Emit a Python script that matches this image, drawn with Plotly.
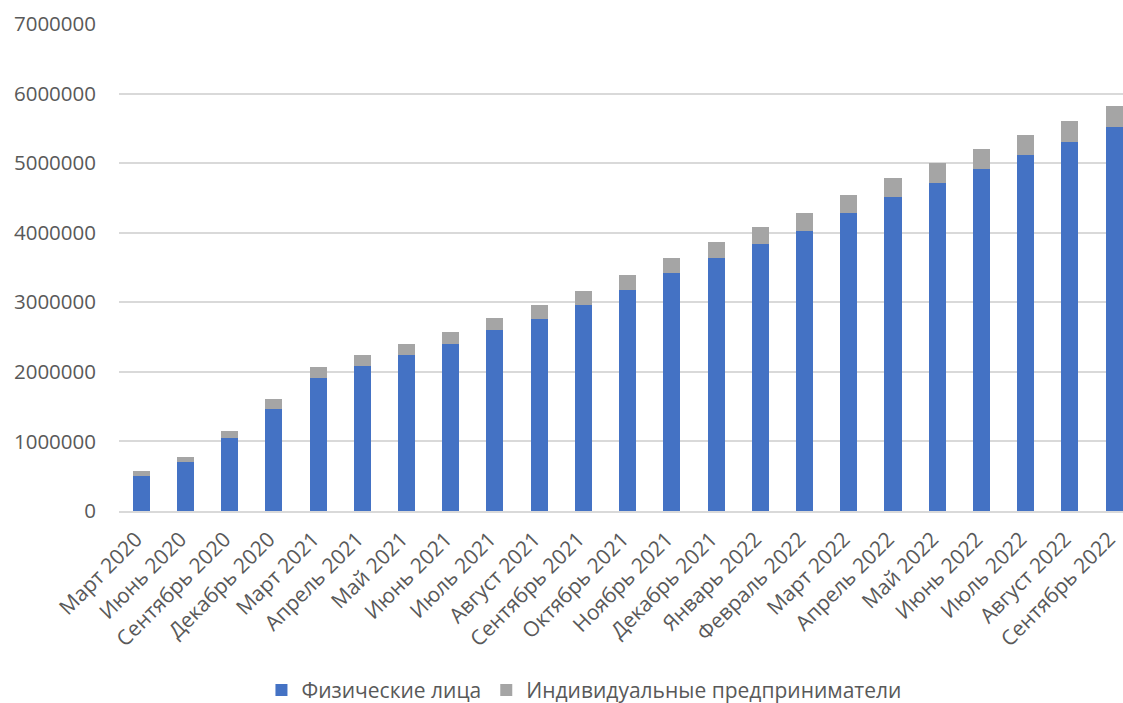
import plotly.graph_objects as go

categories = ["Март 2020", "Июнь 2020", "Сентябрь 2020", "Декабрь 2020", "Март 2021",
              "Апрель 2021", "Май 2021", "Июнь 2021", "Июль 2021", "Август 2021",
              "Сентябрь 2021", "Октябрь 2021", "Ноябрь 2021", "Декабрь 2021", "Январь 2022",
              "Февраль 2022", "Март 2022", "Апрель 2022", "Май 2022", "Июнь 2022",
              "Июль 2022", "Август 2022", "Сентябрь 2022"]

individuals = [510000, 706000, 1052000, 1460000, 1914000,
               2086000, 2236000, 2397000, 2602000, 2761000,
               2967000, 3182000, 3421000, 3630000, 3837000,
               4029000, 4289000, 4519000, 4713000, 4922000,
               5110000, 5311000, 5516000]

entrepreneurs = [62000, 72000, 91000, 144000, 154000,
                 159000, 158000, 173000, 178000, 196000,
                 195000, 210000, 215000, 230000, 241000,
                 255000, 255000, 270000, 287000, 280000,
                 298000, 299000, 311000]

y_ticks = [0, 1000000, 2000000, 3000000, 4000000, 5000000, 6000000, 7000000]

FONT = "Open Sans"
TXT = "#595959"

fig = go.Figure()
fig.add_trace(go.Bar(x=categories, y=individuals, name="Физические лица",
                     marker=dict(color="#4472C4", line=dict(width=0))))
fig.add_trace(go.Bar(x=categories, y=entrepreneurs, name="Индивидуальные предприниматели",
                     marker=dict(color="#A5A5A5", line=dict(width=0))))

fig.update_layout(
    width=1123, height=703,
    barmode="stack", bargap=0.615,
    plot_bgcolor="white", paper_bgcolor="white",
    margin=dict(l=119, r=0, t=24, b=192, autoexpand=False),
    font=dict(family=FONT, size=20, color=TXT),
    showlegend=True,
    legend=dict(orientation="h", xref="container", yref="container",
                x=0.52, y=0.018, xanchor="center", yanchor="middle",
                traceorder="normal",
                font=dict(family=FONT, size=21, color=TXT),
                itemwidth=30, tracegroupgap=0),
    xaxis=dict(type="category", range=[-0.5, 22.2], tickangle=-45,
               showline=True, linecolor="#d9d9d9", linewidth=1.5,
               ticks="", showgrid=False, automargin=False,
               ticklabelstandoff=6, ticklabelshift=-5,
               tickfont=dict(family=FONT, size=21, color=TXT)),
    yaxis=dict(range=[0, 7000000], tickvals=y_ticks,
               ticktext=[str(v) for v in y_ticks],
               showgrid=True, gridcolor="#d9d9d9", gridwidth=1.5,
               zeroline=False, showline=False, ticks="",
               ticklabelstandoff=22, automargin=False,
               tickfont=dict(family=FONT, size=20.5, color=TXT)),
)

fig.write_html("out.html", config={"displayModeBar": False},
               post_script="document.body.style.margin='0';document.body.style.overflow='hidden';")
